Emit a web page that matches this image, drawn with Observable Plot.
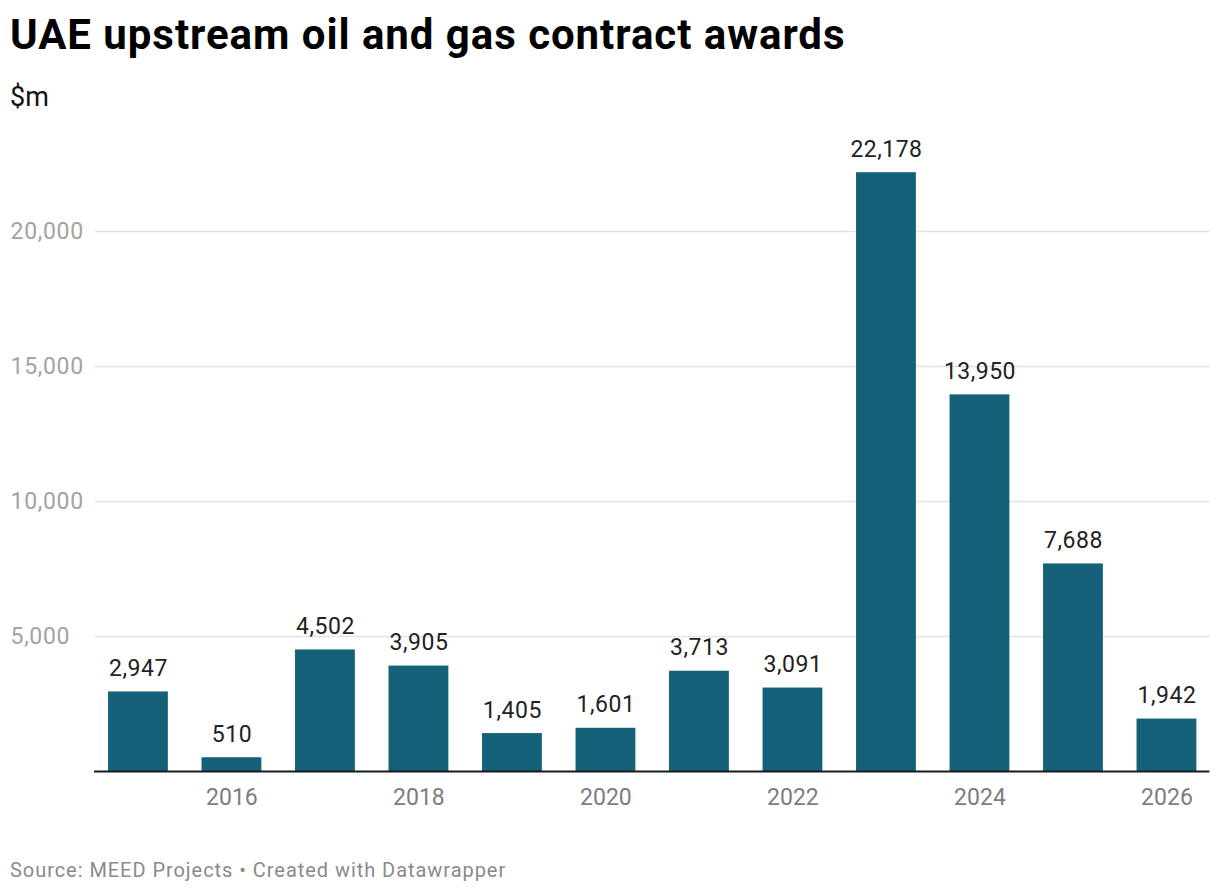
<!DOCTYPE html>
<html><head><meta charset="utf-8">
<script src="https://cdn.jsdelivr.net/npm/d3@7"></script>
<script src="https://cdn.jsdelivr.net/npm/@observablehq/plot@0.6"></script>
<style>
body{margin:0;background:#fff;font-family:Roboto,sans-serif;width:1220px;}
#title{height:70px;padding:10px 0 0 10px;font-size:42px;line-height:50px;font-weight:700;color:#000;letter-spacing:0.95px;white-space:nowrap;}
#sub{height:40px;line-height:34px;font-size:27px;padding-left:10px;color:#111;}
#chart{height:700px;}
#foot{margin-top:38px;line-height:24px;font-size:20px;padding-left:10px;color:#8a8a8a;letter-spacing:0.95px;white-space:nowrap;}
.ytl text{letter-spacing:0.7px;}
.vl text{letter-spacing:0.5px;}
</style></head><body>
<div id="title">UAE upstream oil and gas contract awards</div>
<div id="sub">$m</div>
<div id="chart"></div>
<div id="foot">Source: MEED Projects • Created with Datawrapper</div>
<script>
const years = [2015,2016,2017,2018,2019,2020,2021,2022,2023,2024,2025,2026];
const values = [2947,510,4502,3905,1405,1601,3713,3091,22178,13950,7688,1942];
const yTicks = [5000,10000,15000,20000];
const xTickYears = [2016,2018,2020,2022,2024,2026];
const data = years.map((y,i)=>({year:y, value:values[i]}));
const fmt = d3.format(",");
const chart = Plot.plot({
  width:1220, height:700, marginLeft:91, marginRight:6.6, marginTop:3, marginBottom:49,
  style:{fontFamily:"Roboto", background:"transparent", overflow:"visible"},
  x:{type:"band", domain:years, paddingInner:0.36, paddingOuter:0.182, round:false, label:null},
  y:{domain:[0,24000], label:null, axis:null},
  marks:[
    Plot.ruleY(yTicks,{stroke:"#e3e3e3", strokeWidth:1.5, insetLeft:4, insetRight:4}),
    Plot.text(yTicks,{y:d=>d, text:d=>fmt(d), frameAnchor:"left", textAnchor:"start", dx:-81, fill:"#a3a3a3", fontSize:23, className:"ytl"}),
    Plot.barY(data,{x:"year", y:"value", fill:"#16617a"}),
    Plot.text(data,{x:"year", y:"value", text:d=>fmt(d.value), lineAnchor:"bottom", dy:-16, fill:"#222", fontSize:23, className:"vl"}),
    Plot.ruleY([0],{stroke:"#1a1a1a", strokeWidth:2, insetLeft:3, insetRight:4}),
    Plot.axisX(xTickYears,{tickSize:0, tickPadding:17, fontSize:23, color:"#7d7d7d", label:null, tickFormat:d=>String(d)})
  ]
});
document.getElementById("chart").appendChild(chart);
</script>
</body></html>
